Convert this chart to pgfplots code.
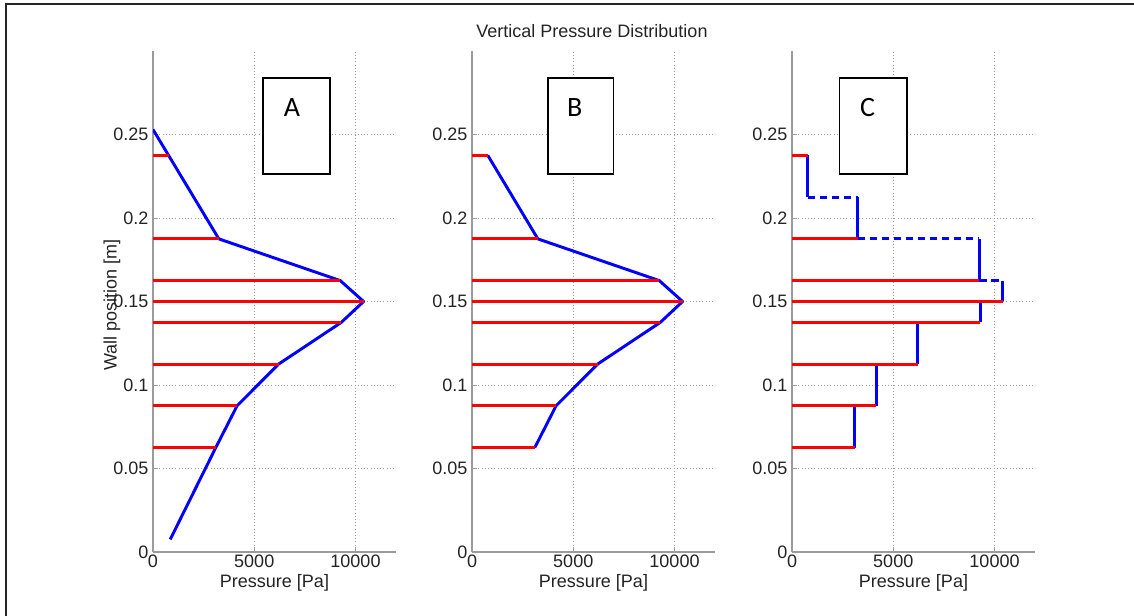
\documentclass[border=0pt]{standalone}
\usepackage{pgfplots}
\pgfplotsset{compat=1.18}
\usepackage{pgfplotstable}
\usepackage{fontspec}
\setmainfont{Liberation Sans}
\newfontfamily\boxfont{Carlito}
\definecolor{axgray}{RGB}{155,155,155}
\definecolor{txt}{RGB}{35,35,35}

% red sensor lines: from 0 to the pressure at each height (nan breaks the line)
\pgfplotstableread{
p h
0 0.2375
780 0.2375
nan nan
0 0.1875
3250 0.1875
nan nan
0 0.1625
9250 0.1625
nan nan
0 0.15
10400 0.15
nan nan
0 0.1375
9300 0.1375
nan nan
0 0.1125
6200 0.1125
nan nan
0 0.0875
4150 0.0875
nan nan
0 0.0625
3100 0.0625
}\redtab

\pgfplotstableread{
p h
0 0.253
3250 0.1875
9250 0.1625
10400 0.15
9300 0.1375
6200 0.1125
4150 0.0875
3100 0.0625
850 0.0075
}\blueA

\pgfplotstableread{
p h
780 0.2375
3250 0.1875
9250 0.1625
10400 0.15
9300 0.1375
6200 0.1125
4150 0.0875
3100 0.0625
}\blueB

% panel C: solid vertical steps
\pgfplotstableread{
p h
780 0.2375
780 0.2125
nan nan
3250 0.2125
3250 0.1875
nan nan
9250 0.1875
9250 0.1625
nan nan
10400 0.1625
10400 0.15
nan nan
9300 0.15
9300 0.1375
nan nan
6200 0.1375
6200 0.1125
nan nan
4150 0.1125
4150 0.0875
nan nan
3100 0.0875
3100 0.0625
}\blueCsolid

% panel C: dashed horizontal connectors
\pgfplotstableread{
p h
780 0.2125
3250 0.2125
nan nan
3250 0.1875
9250 0.1875
nan nan
9250 0.1625
10400 0.1625
}\blueCdash

\pgfplotsset{panel/.style={
  width=182.25pt, height=375.75pt, scale only axis,
  anchor=south west,
  xmin=0, xmax=12000, ymin=0, ymax=0.3,
  axis lines=left,
  axis line style={-, axgray, line width=1.2pt},
  xtick={0,5000,10000}, xticklabels={0,5000,10000},
  scaled x ticks=false,
  ytick={0,0.05,0.1,0.15,0.2,0.25}, yticklabels={0,0.05,0.1,0.15,0.2,0.25},
  tick align=inside, major tick length=3.5pt,
  tick style={axgray, line width=0.7pt},
  grid=major,
  grid style={axgray, line width=0.6pt, dash pattern=on 0.8pt off 1.6pt},
  ticklabel style={font=\fontsize{13.5}{16}\selectfont, text=txt},
  xticklabel style={yshift=1pt},
  label style={font=\fontsize{13.5}{16}\selectfont, text=txt},
  xlabel={Pressure [Pa]},
  xlabel style={at={(axis description cs:0.5,-0.062)}, anchor=center},
  unbounded coords=jump,
}}

\tikzset{
  bluel/.style={blue, line width=2.2pt, line join=round},
  redl/.style={red, line width=2.2pt},
}

\begin{document}
\begin{tikzpicture}
\path[use as bounding box] (0,0) rectangle (850.5pt,462pt);
\draw[line width=1.5pt, black!85] (4.5pt,-3pt) -- (4.5pt,459pt) -- (853pt,459pt);
\node[font=\fontsize{13.5}{16}\selectfont, text=txt] at (444pt,438.75pt) {Vertical Pressure Distribution};

% Panel A
\begin{axis}[panel, at={(114.75pt,48pt)},
  ylabel={Wall position [m]},
  ylabel style={at={(axis description cs:-0.169,0.493)}, anchor=center}]
\addplot[bluel, mark=none] table[x=p,y=h] \blueA;
\addplot[redl, mark=none] table[x=p,y=h] \redtab;
\draw[line width=1.1pt, fill=white] (axis cs:5430,0.2263) rectangle (axis cs:8740,0.2838);
\node[font=\boxfont\fontsize{21}{24}\selectfont] at (axis cs:6864,0.2662) {A};
\end{axis}

% Panel B
\begin{axis}[panel, at={(354pt,48pt)}]
\addplot[bluel, mark=none] table[x=p,y=h] \blueB;
\addplot[redl, mark=none] table[x=p,y=h] \redtab;
\draw[line width=1.1pt, fill=white] (axis cs:3744,0.2263) rectangle (axis cs:6995,0.2838);
\node[font=\boxfont\fontsize{21}{24}\selectfont] at (axis cs:5074,0.2662) {B};
\end{axis}

% Panel C
\begin{axis}[panel, at={(594pt,48pt)}]
\addplot[bluel, mark=none] table[x=p,y=h] \blueCsolid;
\addplot[bluel, mark=none, dash pattern=on 5.5pt off 3.5pt] table[x=p,y=h] \blueCdash;
\addplot[redl, mark=none] table[x=p,y=h] \redtab;
\draw[line width=1.1pt, fill=white] (axis cs:2338,0.2263) rectangle (axis cs:5672,0.2838);
\node[font=\boxfont\fontsize{21}{24}\selectfont] at (axis cs:3731,0.2662) {C};
\end{axis}
\end{tikzpicture}
\end{document}
